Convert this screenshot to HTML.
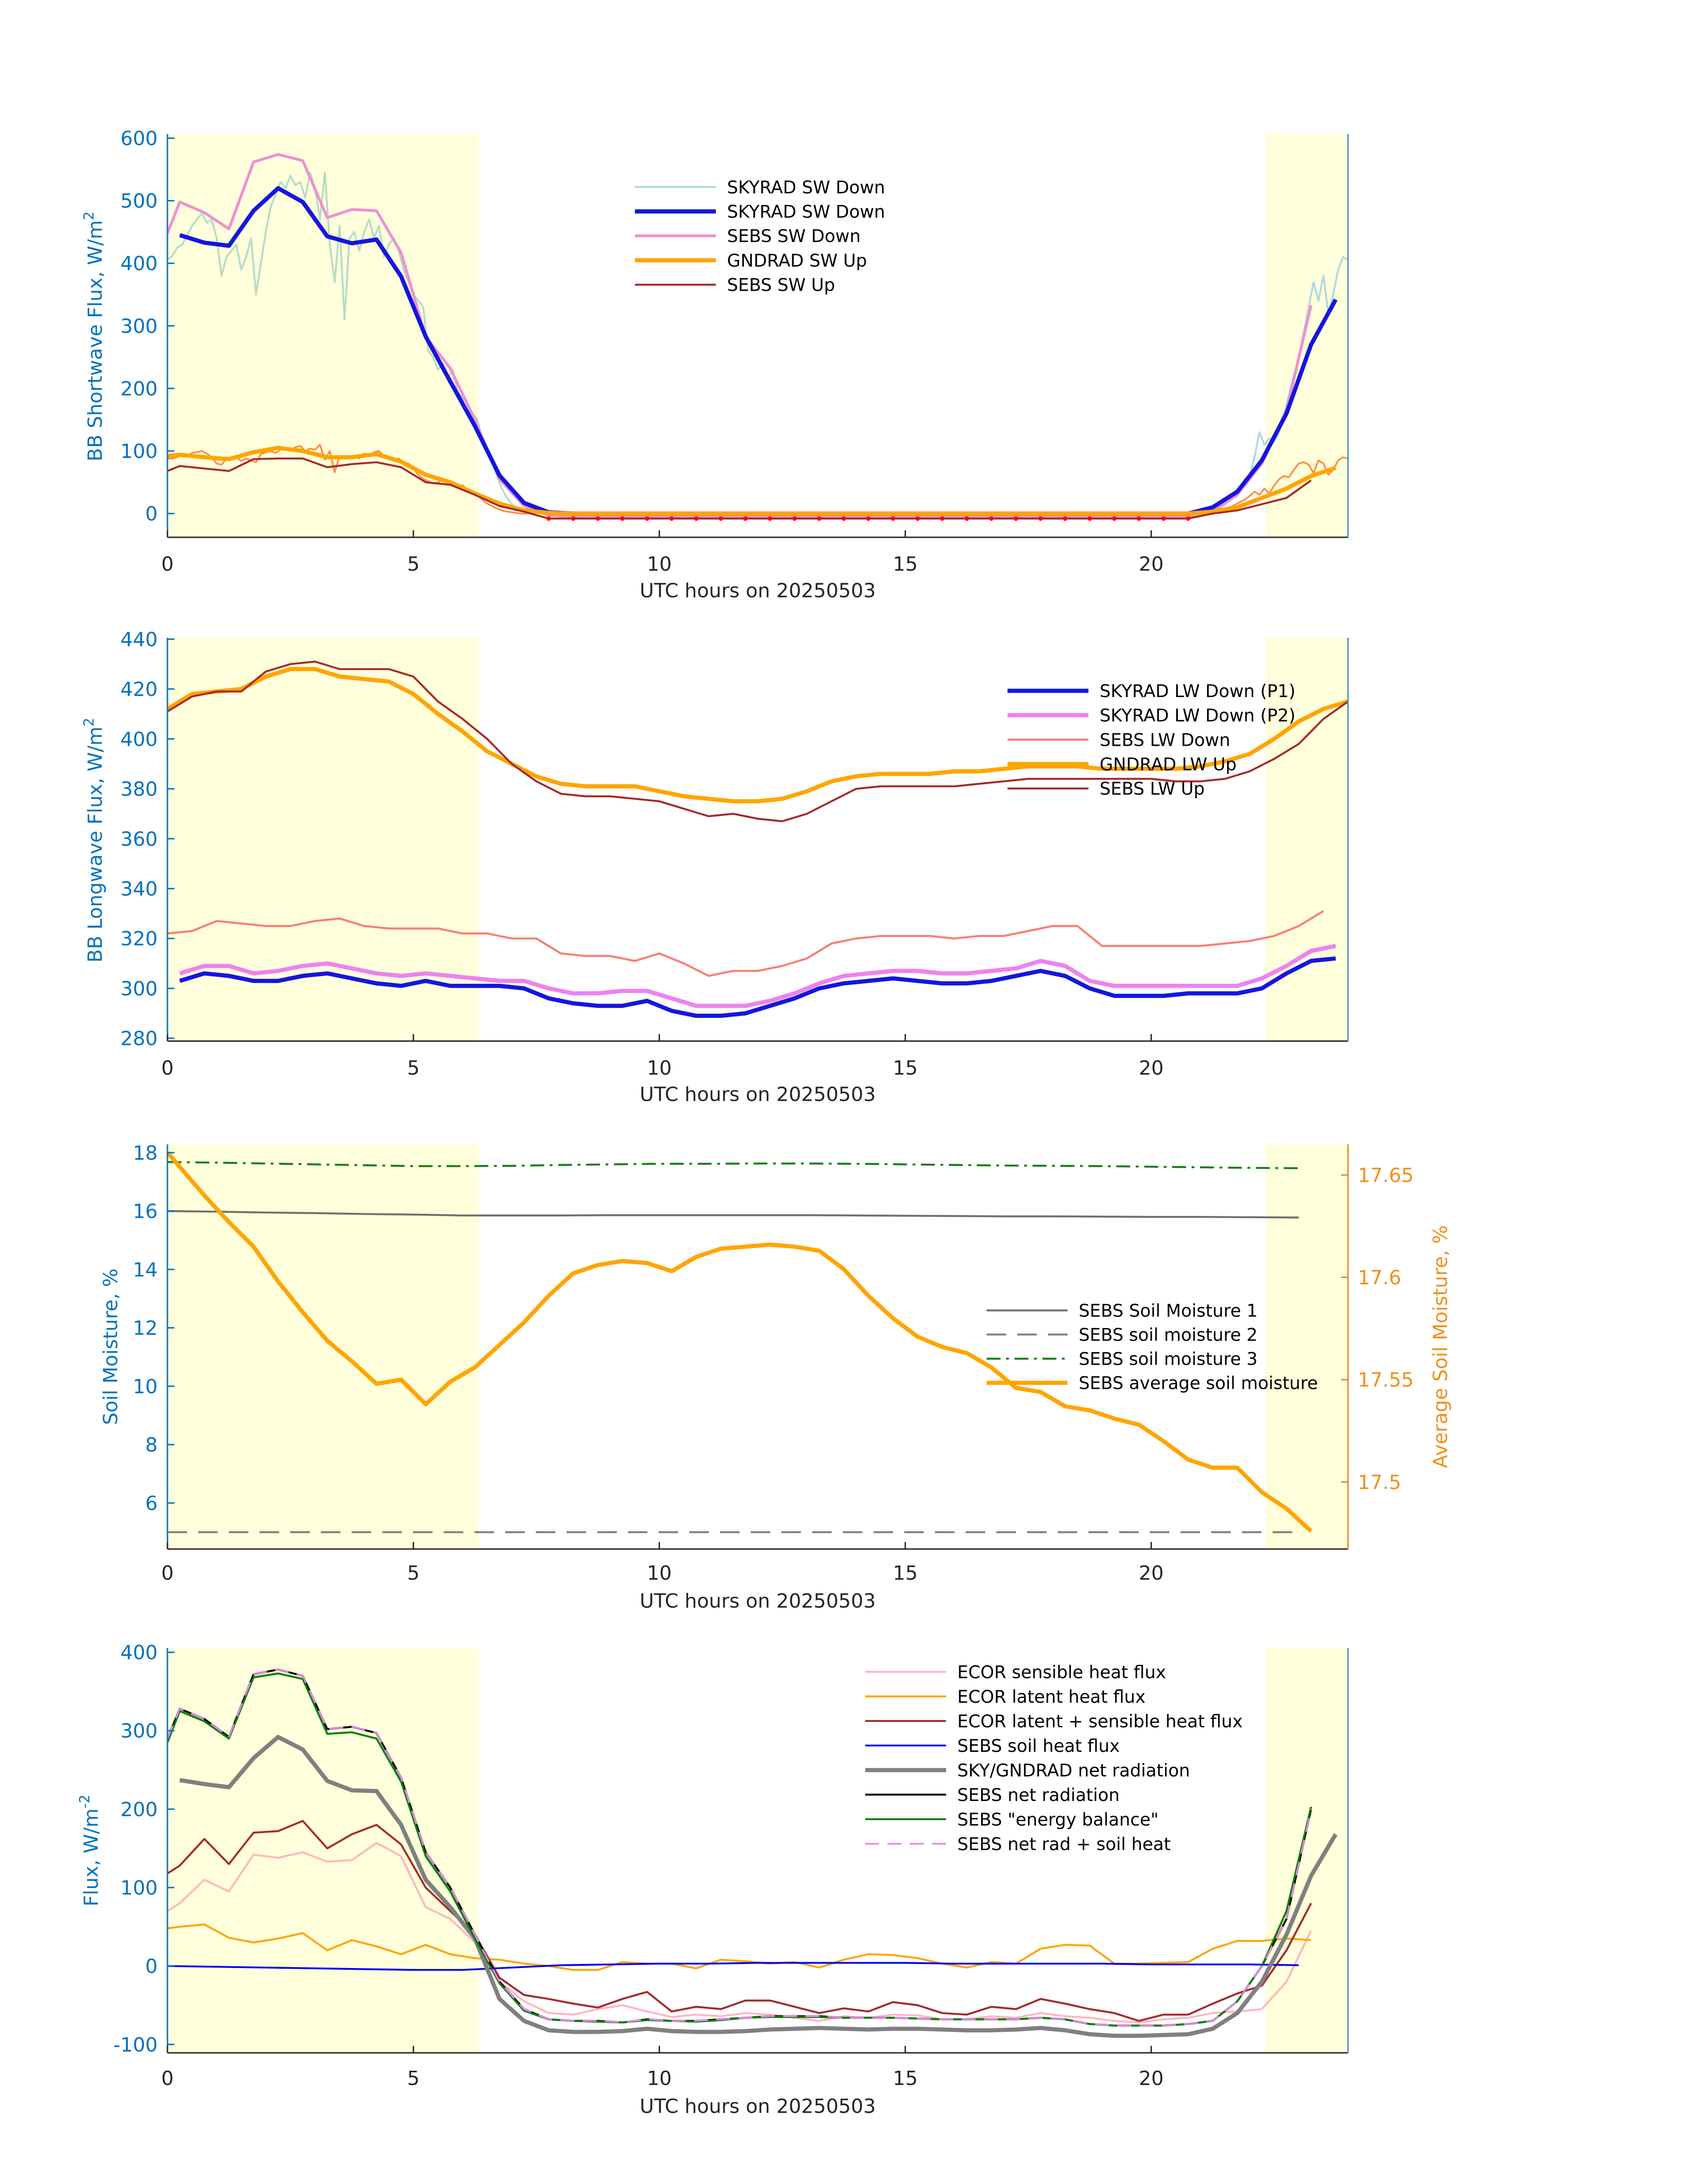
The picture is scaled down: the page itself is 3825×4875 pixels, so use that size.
<!DOCTYPE html>
<html><head><meta charset="utf-8"><title>Radiation and flux timeseries for 20250503 (UTC)</title>
<style>html,body{margin:0;padding:0;background:#fff}svg{display:block}text{font-family:"DejaVu Sans","Liberation Sans",sans-serif}</style>
</head><body>
<svg id="fig" xmlns="http://www.w3.org/2000/svg" width="3825" height="4875" viewBox="0 0 1224 1560" preserveAspectRatio="none"></svg>
<script>
// ---------- DATA ----------
// Panel 1 (shortwave)
const swSkyDownGreen = [405,412,425,430,445,460,470,480,465,470,440,380,410,420,430,390,410,440,350,400,450,490,510,530,520,540,525,530,505,545,520,470,545,430,370,460,310,440,450,420,450,470,440,460,410,430,440,420,390,370,350,340,330,260,250,230,240,215,230,195,185,175,160,150,120,100,80,60,40,25,15,8,4,2,1,0];
const swSkyDownEve = [0,1,3,5,10,15,22,30,40,55,60,90,130,110,120,115,130,160,190,220,250,290,330,370,340,380,320,350,390,410,405];
const swGndUpNoisy = [88,88,90,95,92,97,98,100,96,90,80,78,88,86,90,84,88,85,82,95,98,100,97,102,104,100,106,108,100,104,102,110,86,100,66,92,88,90,92,88,96,92,98,100,92,90,86,88,82,80,72,62,55,52,48,50,55,52,48,42,45,38,35,30,22,16,12,8,5,3,2,1,0,0,0,0];
const swGndUpNoisyEve = [0,1,2,3,5,8,10,14,18,22,28,35,30,40,32,45,55,60,58,70,80,82,78,65,85,80,62,70,85,90,88];
const swSkyDown = [445,433,428,484,520,498,443,432,438,379,283,211,140,61,17,2,0,0,0,0,0,0,0,0,0,0,0,0,0,0,0,0,0,0,0,0,0,0,0,0,0,0,10,35,85,160,270,342];
const swSebsDown = [448,498,481,455,562,574,564,473,486,484,417,283,232,150,55,12,-3,-5,-5,-5,-5,-5,-5,-5,-5,-5,-5,-5,-5,-5,-5,-5,-5,-5,-5,-5,-5,-5,-5,-5,-5,-5,-5,3,30,80,165,333];
const swGndUp = [92,94,90,87,98,105,100,90,90,95,83,62,50,32,16,5,1,0,0,0,0,0,0,0,0,0,0,0,0,0,0,0,0,0,0,0,0,0,0,0,0,0,0,3,10,25,40,60,73];
const swSebsUp = [68,76,72,68,87,88,88,74,79,82,74,50,46,30,12,3,-8,-8,-8,-8,-8,-8,-8,-8,-8,-8,-8,-8,-8,-8,-8,-8,-8,-8,-8,-8,-8,-8,-8,-8,-8,-8,-8,0,5,15,25,53];
const swTicks = [0,100,200,300,400,500,600];
// Panel 2 (longwave)
const lwGndUp = [412,418,419,420,425,428,428,425,424,423,418,410,403,395,390,385,382,381,381,381,379,377,376,375,375,376,379,383,385,386,386,386,387,387,388,389,389,389,388,388,388,388,389,391,394,400,407,412,415];
const lwSebsUp = [411,417,419,419,427,430,431,428,428,428,425,415,408,400,390,383,378,377,377,376,375,372,369,370,368,367,370,375,380,381,381,381,381,382,383,384,384,384,384,384,384,383,383,384,387,392,398,408,415];
const lwSebsDown = [322,323,327,326,325,325,327,328,325,324,324,324,322,322,320,320,314,313,313,311,314,310,305,307,307,309,312,318,320,321,321,321,320,321,321,323,325,325,317,317,317,317,317,318,319,321,325,331];
const lwSkyP1 = [303,306,305,303,303,305,306,304,302,301,303,301,301,301,300,296,294,293,293,295,291,289,289,290,293,296,300,302,303,304,303,302,302,303,305,307,305,300,297,297,297,298,298,298,300,306,311,312];
const lwSkyP2 = [306,309,309,306,307,309,310,308,306,305,306,305,304,303,303,300,298,298,299,299,296,293,293,293,295,298,302,305,306,307,307,306,306,307,308,311,309,303,301,301,301,301,301,301,304,309,315,317];
const lwTicks = [280,300,320,340,360,380,400,420,440];
// Panel 3 (soil moisture)
const soil1 = [16.0,15.98,15.95,15.93,15.9,15.88,15.85,15.85,15.85,15.86,15.86,15.86,15.86,15.86,15.85,15.84,15.83,15.82,15.82,15.81,15.8,15.8,15.79,15.78];
const soil2 = [5,5,5,5,5,5,5,5,5,5,5,5,5,5,5,5,5,5,5,5,5,5,5,5];
const soil3 = [17.68,17.66,17.63,17.6,17.57,17.54,17.54,17.55,17.58,17.6,17.62,17.62,17.63,17.63,17.62,17.6,17.58,17.56,17.55,17.54,17.52,17.5,17.48,17.47];
const soilAvg = [17.661,17.654,17.640,17.627,17.615,17.598,17.583,17.569,17.559,17.548,17.550,17.538,17.549,17.556,17.567,17.578,17.591,17.602,17.606,17.608,17.607,17.603,17.610,17.614,17.615,17.616,17.615,17.613,17.604,17.591,17.580,17.571,17.566,17.563,17.556,17.546,17.544,17.537,17.535,17.531,17.528,17.520,17.511,17.507,17.507,17.495,17.487,17.476];
const soilTicksL = [6,8,10,12,14,16,18];
const soilTicksR = [17.5,17.55,17.6,17.65];
const soilTickLabelsR = ['17.5','17.55','17.6','17.65'];
// Panel 4 (fluxes)
const fxNetSebs = [290,328,315,292,372,378,370,302,305,297,240,145,100,40,-20,-55,-68,-70,-70,-72,-68,-70,-70,-68,-66,-64,-64,-64,-66,-66,-66,-67,-68,-68,-68,-68,-66,-68,-74,-76,-76,-76,-74,-70,-45,0,60,200];
const fxEnergyBal = [285,325,312,290,368,373,366,296,298,290,235,140,95,35,-22,-57,-68,-70,-71,-72,-69,-70,-71,-69,-66,-65,-65,-65,-66,-66,-66,-67,-68,-68,-68,-68,-66,-68,-74,-76,-76,-76,-74,-70,-45,0,70,203];
const fxNetSkyGnd = [237,232,228,265,292,276,236,224,223,180,110,75,35,-42,-70,-82,-84,-84,-83,-80,-83,-84,-84,-83,-81,-80,-79,-80,-81,-80,-80,-81,-82,-82,-81,-79,-82,-87,-89,-89,-88,-87,-80,-60,-20,40,115,168];
const fxLatSens = [118,128,162,130,170,172,185,150,168,180,155,100,70,40,-15,-37,-42,-48,-53,-42,-33,-58,-52,-55,-44,-44,-52,-60,-54,-58,-46,-50,-60,-62,-52,-55,-42,-48,-55,-60,-70,-62,-62,-48,-35,-25,20,80];
const fxSensible = [70,80,110,95,142,138,145,133,135,157,140,75,60,30,-20,-45,-60,-62,-55,-50,-58,-65,-62,-64,-60,-62,-66,-70,-64,-66,-62,-63,-68,-68,-64,-66,-60,-64,-66,-70,-72,-68,-66,-60,-58,-55,-20,45];
const fxLatent = [48,50,53,36,30,35,42,20,33,25,15,27,15,10,8,3,0,-5,-5,5,3,3,-3,8,6,3,5,-2,8,15,14,10,3,-2,5,3,22,27,26,3,3,4,5,22,32,32,35,33];
const fxSoilHeat = [0,-1,-2,-3,-4,-5,-5,-2,1,2,3,3,4,4,4,4,3,3,3,3,2,2,2,1];
const fxTicks = [-100,0,100,200,300,400];
const xTicks = [0,5,10,15,20];

// ---------- HELPERS ----------
const NS='http://www.w3.org/2000/svg';
const svg=document.getElementById('fig');
const X0=120,X1=966;
function xs(h){return X0+(X1-X0)*h/24;}
function lin(v0,p0,v1,p1){return v=>p0+(v-v0)*(p1-p0)/(v1-v0);}
function mk(tag,attrs,parent){const e=document.createElementNS(NS,tag);for(const k in attrs)e.setAttribute(k,attrs[k]);(parent||svg).appendChild(e);return e;}
function seq(start,step,n){const a=[];for(let i=0;i<n;i++)a.push(start+i*step);return a;}
function withZero(n){return [0].concat(seq(0.25,0.5,n-1));}
function line(g,t,v,y,color,w,dash,name,extra){
  let d='';for(let i=0;i<v.length;i++)d+=(i?'L':'M')+xs(t[i]).toFixed(2)+' '+y(v[i]).toFixed(2);
  const p=mk('path',Object.assign({d:d,fill:'none',stroke:color,'stroke-width':w,'stroke-linejoin':'round','stroke-dasharray':dash||'none'},extra||{}),g);
  
  
  return p;
}
function axes(name,top,bot,y,ticks,labels,ylabel,ycx,xlabY,tickLabY){
  const g=mk('g',{});
  
  
  const s1=mk('rect',{x:X0,y:top,width:xs(6.33)-X0,height:bot-top,fill:'#ffffdc'},g);
  
  
  const s2=mk('rect',{x:xs(22.33),y:top,width:X1-xs(22.33),height:bot-top,fill:'#ffffdc'},g);
  
  
  const series=mk('g',{},g);
  
  
  const ax=mk('g',{},g);
  
  
  const l=mk('line',{x1:X0,y1:top,x2:X0,y2:bot,stroke:'#0072bd','stroke-width':1},ax);
  
  
  const b=mk('line',{x1:X0,y1:bot,x2:X1,y2:bot,stroke:'#262626','stroke-width':1},ax);
  
  
  ticks.forEach((tv,i)=>{
    const yy=y(tv);
    const tk=mk('line',{x1:X0,y1:yy,x2:X0+5,y2:yy,stroke:'#0072bd','stroke-width':1},ax);
    
    
    const tl=mk('text',{x:X0-7,y:yy+5,'text-anchor':'end','font-size':14,fill:'#0072bd'},ax);
    tl.textContent=labels?labels[i]:String(tv);
    
    
  });
  xTicks.forEach(h=>{
    const tk=mk('line',{x1:xs(h),y1:bot,x2:xs(h),y2:bot-5,stroke:'#262626','stroke-width':1},ax);
    
    
    const tl=mk('text',{x:xs(h),y:tickLabY,'text-anchor':'middle','font-size':14,fill:'#262626'},ax);
    tl.textContent=String(h);
    
    
  });
  const xl=mk('text',{x:543,y:xlabY,'text-anchor':'middle','font-size':14,fill:'#262626'},ax);
  xl.textContent='UTC hours on 20250503';
  
  
  const yl=mk('text',{x:0,y:0,'text-anchor':'middle','font-size':14,fill:'#0072bd',transform:'translate('+ycx[0]+','+ycx[1]+') rotate(-90)'},ax);
  yl.innerHTML=ylabel;
  
  
  return {g,series,ax};
}
function legend(parent,x,y0,dy,items,name){
  const g=mk('g',{},parent);
  
  
  items.forEach((it,i)=>{
    const yy=y0+i*dy;
    const ln=mk('line',{x1:x,y1:yy,x2:x+58,y2:yy,stroke:it[1],'stroke-width':it[2],'stroke-dasharray':it[3]||'none'},g);
    
    
    const tx=mk('text',{x:x+66,y:yy+4.5,'font-size':12.5,fill:'#000'},g);
    tx.textContent=it[0];
    
    
  });
}

// ---------- PANEL 1 ----------
{
  const y=lin(0,368,600,99);
  const P=axes('shortwave-panel',96,385,y,swTicks,null,'BB Shortwave Flux, W/m<tspan dy="-6" font-size="10">2</tspan>',[73,241],428,409);
  const s=P.series;
  line(s,seq(0,0.1,swSkyDownGreen.length),swSkyDownGreen,y,'#b4dcc6',1.3,null,'skyrad-sw-down-1min');
  line(s,seq(21,0.1,swSkyDownEve.length),swSkyDownEve,y,'#add8e6',1.3,null,'skyrad-sw-down-1min-evening');
  line(s,seq(0,0.1,swGndUpNoisy.length),swGndUpNoisy,y,'#ff8c40',1.2,null,'gndrad-sw-up-1min');
  line(s,seq(21,0.1,swGndUpNoisyEve.length),swGndUpNoisyEve,y,'#ff8c40',1.2,null,'gndrad-sw-up-1min-evening');
  line(s,withZero(swSebsDown.length),swSebsDown,y,'#ee90d0',2,null,'sebs-sw-down');
  line(s,seq(0.25,0.5,swSkyDown.length),swSkyDown,y,'#1515e0',3,null,'skyrad-sw-down');
  line(s,withZero(swGndUp.length),swGndUp,y,'#ffa500',3,null,'gndrad-sw-up');
  const tUp=withZero(swSebsUp.length);
  line(s,tUp,swSebsUp,y,'#a52a2a',1.4,null,'sebs-sw-up');
  swSebsUp.forEach((v,i)=>{ if(v<-5){
    const c=mk('circle',{cx:xs(tUp[i]),cy:y(v),r:1.6,fill:'#ff0000'},s);
    
    
  }});
  const r=mk('line',{x1:X1,y1:96,x2:X1,y2:385,stroke:'#4a90b8','stroke-width':1},P.ax);
  
  
  legend(P.g,455,134,17.5,[['SKYRAD SW Down','#a8d8d0',1.3],['SKYRAD SW Down','#1515e0',3],['SEBS SW Down','#ee90d0',2],['GNDRAD SW Up','#ffa500',3],['SEBS SW Up','#a52a2a',1.4]],'shortwave-legend');
}
// ---------- PANEL 2 ----------
{
  const y=lin(280,744,440,458);
  const P=axes('longwave-panel',457,746,y,lwTicks,null,'BB Longwave Flux, W/m<tspan dy="-6" font-size="10">2</tspan>',[73,602],789,770);
  const s=P.series;
  line(s,seq(0,0.5,lwSebsDown.length),lwSebsDown,y,'#fa8072',1.5,null,'sebs-lw-down');
  line(s,seq(0.25,0.5,lwSkyP2.length),lwSkyP2,y,'#ee82ee',3,null,'skyrad-lw-down-p2');
  line(s,seq(0.25,0.5,lwSkyP1.length),lwSkyP1,y,'#1515e0',3,null,'skyrad-lw-down-p1');
  line(s,seq(0,0.5,lwGndUp.length),lwGndUp,y,'#ffa500',3,null,'gndrad-lw-up');
  line(s,seq(0,0.5,lwSebsUp.length),lwSebsUp,y,'#a52a2a',1.4,null,'sebs-lw-up');
  const r=mk('line',{x1:X1,y1:457,x2:X1,y2:746,stroke:'#4a90b8','stroke-width':1},P.ax);
  
  
  legend(P.g,722,495,17.5,[['SKYRAD LW Down (P1)','#1515e0',3],['SKYRAD LW Down (P2)','#ee82ee',3],['SEBS LW Down','#fa8072',1.5],['GNDRAD LW Up','#ffa500',3],['SEBS LW Up','#a52a2a',1.4]],'longwave-legend');
}
// ---------- PANEL 3 ----------
{
  const y=lin(6,1077,18,826);
  const yr=lin(17.5,1062,17.65,842);
  const P=axes('soil-moisture-panel',820,1110,y,soilTicksL,null,'Soil Moisture, %',[84,965],1152,1132);
  const s=P.series;
  const th=seq(0,1,24);
  line(s,th,soil1,y,'#707070',1.4,null,'sebs-soil-moisture-1');
  line(s,th,soil2,y,'#808080',1.4,'14 8','sebs-soil-moisture-2');
  line(s,th,soil3,y,'#108010',1.4,'10 4 2 4','sebs-soil-moisture-3');
  line(s,withZero(soilAvg.length),soilAvg,yr,'#ffa500',3,null,'sebs-average-soil-moisture');
  const r=mk('line',{x1:X1,y1:820,x2:X1,y2:1110,stroke:'#e8871e','stroke-width':1},P.ax);
  
  
  soilTicksR.forEach((v,i)=>{
    const tk=mk('line',{x1:X1-5,y1:yr(v),x2:X1,y2:yr(v),stroke:'#e8871e','stroke-width':1},P.ax);
    
    
    const tl=mk('text',{x:X1+7,y:yr(v)+5,'font-size':14,fill:'#f0901e'},P.ax);
    tl.textContent=soilTickLabelsR[i];
    
    
  });
  const rl=mk('text',{x:0,y:0,'text-anchor':'middle','font-size':14,fill:'#f0901e',transform:'translate(1037,965) rotate(-90)'},P.ax);
  rl.textContent='Average Soil Moisture, %';
  
  
  legend(P.g,707,939,17.3,[['SEBS Soil Moisture 1','#707070',1.4],['SEBS soil moisture 2','#808080',1.4,'14 8'],['SEBS soil moisture 3','#108010',1.4,'10 4 2 4'],['SEBS average soil moisture','#ffa500',3]],'soil-legend');
}
// ---------- PANEL 4 ----------
{
  const y=lin(-100,1465,400,1184);
  const P=axes('flux-panel',1181,1471,y,fxTicks,null,'Flux, W/m<tspan dy="-6" font-size="10">-2</tspan>',[70,1326],1514,1494);
  const s=P.series;
  const tz=withZero(fxNetSebs.length);
  line(s,tz,fxSensible,y,'#ffb6c1',1.4,null,'ecor-sensible-heat-flux');
  line(s,tz,fxLatent,y,'#ffa500',1.4,null,'ecor-latent-heat-flux');
  line(s,tz,fxLatSens,y,'#a52a2a',1.4,null,'ecor-latent-plus-sensible');
  line(s,seq(0,1,fxSoilHeat.length),fxSoilHeat,y,'#0000ff',1.3,null,'sebs-soil-heat-flux');
  line(s,seq(0.25,0.5,fxNetSkyGnd.length),fxNetSkyGnd,y,'#808080',3,null,'sky-gndrad-net-radiation');
  line(s,tz,fxNetSebs,y,'#000000',1.4,null,'sebs-net-radiation');
  line(s,tz,fxEnergyBal,y,'#008000',1.4,null,'sebs-energy-balance');
  line(s,tz,fxNetSebs,y,'#ee82ee',1.2,'10 6','sebs-net-rad-plus-soil-heat');
  const r=mk('line',{x1:X1,y1:1181,x2:X1,y2:1471,stroke:'#4a90b8','stroke-width':1},P.ax);
  
  
  legend(P.g,620,1198,17.6,[['ECOR sensible heat flux','#ffb6c1',1.4],['ECOR latent heat flux','#ffa500',1.4],['ECOR latent + sensible heat flux','#a52a2a',1.4],['SEBS soil heat flux','#0000ff',1.3],['SKY/GNDRAD net radiation','#808080',3],['SEBS net radiation','#000000',1.4],['SEBS "energy balance"','#008000',1.4],['SEBS net rad + soil heat','#ee82ee',1.2,'10 6']],'flux-legend');
}
</script>
</body></html>
